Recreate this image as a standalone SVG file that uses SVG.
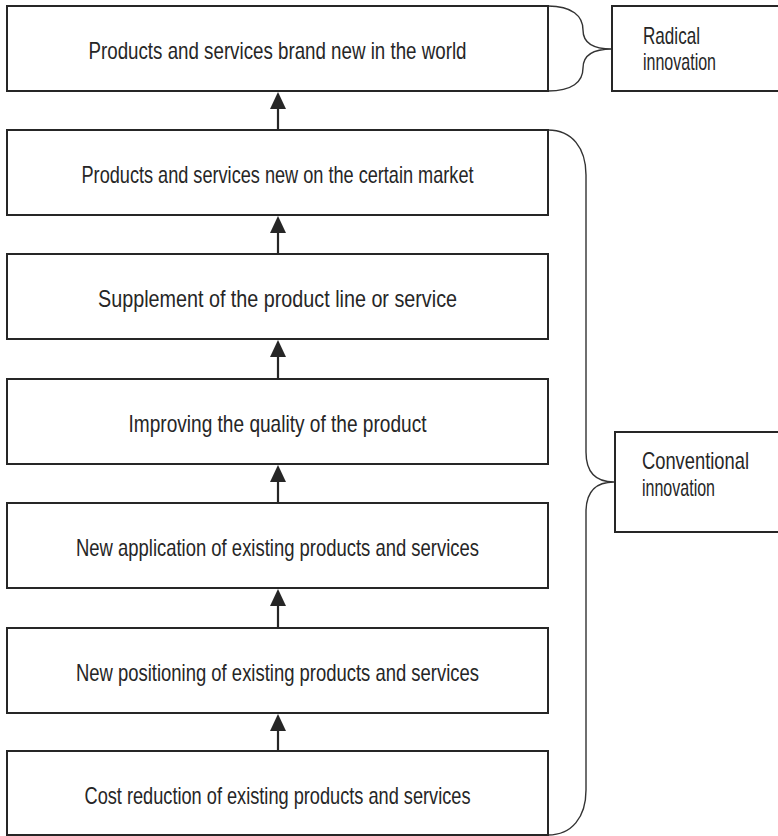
<svg xmlns="http://www.w3.org/2000/svg" width="778" height="836" viewBox="0 0 778 836">
<style>
.box{fill:#fff;stroke:#262626;stroke-width:2}
.t{font-family:"Liberation Sans",Arial,sans-serif;font-size:24px;fill:#262626}
.c{text-anchor:middle}
.brace{fill:none;stroke:#333;stroke-width:1.4}
.ln{stroke:#262626;stroke-width:2.2;fill:none}
.ah{fill:#262626}
</style>
<rect width="778" height="836" fill="#fff"/>
<g id="connectors">
<g id="a1"><line class="ln" x1="278" y1="108" x2="278" y2="130"/><path class="ah" d="M270,109 L278,92 L286,109 Z"/></g>
<g id="a2"><line class="ln" x1="278" y1="232" x2="278" y2="254"/><path class="ah" d="M270,233 L278,216 L286,233 Z"/></g>
<g id="a3"><line class="ln" x1="278" y1="356" x2="278" y2="379"/><path class="ah" d="M270,357 L278,340 L286,357 Z"/></g>
<g id="a4"><line class="ln" x1="278" y1="481" x2="278" y2="503"/><path class="ah" d="M270,482 L278,465 L286,482 Z"/></g>
<g id="a5"><line class="ln" x1="278" y1="605" x2="278" y2="628"/><path class="ah" d="M270,606 L278,589 L286,606 Z"/></g>
<g id="a6"><line class="ln" x1="278" y1="730" x2="278" y2="751"/><path class="ah" d="M270,731 L278,714 L286,731 Z"/></g>
<path id="brace-radical" class="brace" d="M548,6 C572,6 583,16 583,30 C583,42 592,49 612,49 C592,49 583,56 583,68 C583,82 572,91 548,91"/>
<path id="brace-conventional" class="brace" d="M548,130 C572,130 586,148 586,175 L586,452 C586,472 595,482 614,482 C595,482 586,492 586,512 L586,790 C586,817 572,835 548,835"/>
</g>
<g id="n1"><rect class="box" x="7" y="6" width="541" height="85"/><text class="t c" x="277.5" y="59" textLength="378" lengthAdjust="spacingAndGlyphs">Products and services brand new in the world</text></g>
<g id="n2"><rect class="box" x="7" y="130" width="541" height="85"/><text class="t c" x="277.5" y="183" textLength="392" lengthAdjust="spacingAndGlyphs">Products and services new on the certain market</text></g>
<g id="n3"><rect class="box" x="7" y="254" width="541" height="85"/><text class="t c" x="277.5" y="307" textLength="359" lengthAdjust="spacingAndGlyphs">Supplement of the product line or service</text></g>
<g id="n4"><rect class="box" x="7" y="379" width="541" height="85"/><text class="t c" x="277.5" y="432" textLength="298" lengthAdjust="spacingAndGlyphs">Improving the quality of the product</text></g>
<g id="n5"><rect class="box" x="7" y="503" width="541" height="85"/><text class="t c" x="277.5" y="556" textLength="403" lengthAdjust="spacingAndGlyphs">New application of existing products and services</text></g>
<g id="n6"><rect class="box" x="7" y="628" width="541" height="85"/><text class="t c" x="277.5" y="681" textLength="403" lengthAdjust="spacingAndGlyphs">New positioning of existing products and services</text></g>
<g id="n7"><rect class="box" x="7" y="751" width="541" height="84"/><text class="t c" x="277.5" y="804" textLength="386" lengthAdjust="spacingAndGlyphs">Cost reduction of existing products and services</text></g>
<g id="radical"><rect class="box" x="612" y="6" width="180" height="85"/><text class="t" x="643" y="44" textLength="57" lengthAdjust="spacingAndGlyphs">Radical</text><text class="t" x="643" y="70" textLength="73" lengthAdjust="spacingAndGlyphs">innovation</text></g>
<g id="conventional"><rect class="box" x="615" y="432" width="180" height="100"/><text class="t" x="642" y="469" textLength="107" lengthAdjust="spacingAndGlyphs">Conventional</text><text class="t" x="642" y="496" textLength="73" lengthAdjust="spacingAndGlyphs">innovation</text></g>
</svg>
